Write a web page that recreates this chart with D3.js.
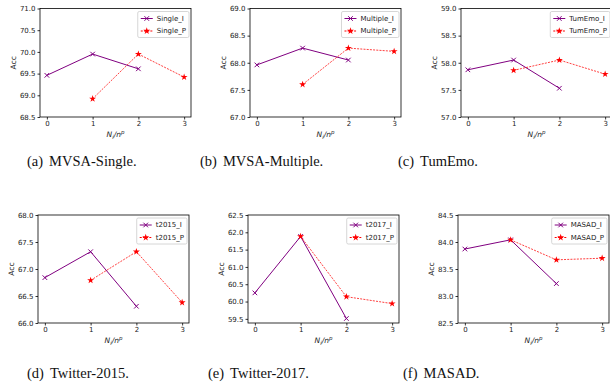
<!DOCTYPE html>
<html>
<head>
<meta charset="utf-8">
<script src="https://cdn.jsdelivr.net/npm/d3@7"></script>
<style>
  body { margin: 0; background: #fff; }
  svg { display: block; }
  .tick text { font-family: "DejaVu Sans", sans-serif; font-size: 7px; fill: #222; }
</style>
</head>
<body>
<svg id="chart" width="610" height="390"></svg>
<script>
// x positions of the two series
const stepsI = [0, 1, 2];
const stepsP = [1, 2, 3];
const xTicks = [0, 1, 2, 3];

// values
const singleI = [69.46, 69.95, 69.61];
const singleP = [68.92, 69.95, 69.42];
const multipleI = [67.96, 68.27, 68.05];
const multipleP = [67.60, 68.27, 68.21];
const tumemoI = [57.87, 58.05, 57.53];
const tumemoP = [57.86, 58.05, 57.79];
const t2015I = [66.84, 67.32, 66.31];
const t2015P = [66.79, 67.32, 66.38];
const t2017I = [60.25, 61.88, 59.51];
const t2017P = [61.88, 60.14, 59.94];
const masadI = [83.87, 84.04, 83.23];
const masadP = [84.04, 83.67, 83.70];

const ticksSingle = [68.5, 69.0, 69.5, 70.0, 70.5, 71.0];
const ticksMultiple = [67.0, 67.5, 68.0, 68.5, 69.0];
const ticksTumemo = [57.0, 57.5, 58.0, 58.5, 59.0];
const ticks2015 = [66.0, 66.5, 67.0, 67.5, 68.0];
const ticks2017 = [59.5, 60.0, 60.5, 61.0, 61.5, 62.0, 62.5];
const ticksMasad = [82.5, 83.0, 83.5, 84.0, 84.5];

const legendNames = [["Single_I", "Single_P"], ["Multiple_I", "Multiple_P"], ["TumEmo_I", "TumEmo_P"],
                     ["t2015_I", "t2015_P"], ["t2017_I", "t2017_P"], ["MASAD_I", "MASAD_P"]];
const captions = [["(a)", "MVSA-Single."], ["(b)", "MVSA-Multiple."], ["(c)", "TumEmo."],
                  ["(d)", "Twitter-2015."], ["(e)", "Twitter-2017."], ["(f)", "MASAD."]];

const panels = [
  {left: 40, top: 8.5, bottom: 117, yDom: [68.5, 71.0], ticks: ticksSingle, I: singleI, P: singleP, cx: 27, cy: 166},
  {left: 250, top: 8.5, bottom: 117, yDom: [67.0, 69.0], ticks: ticksMultiple, I: multipleI, P: multipleP, cx: 200, cy: 166},
  {left: 461, top: 8.5, bottom: 117, yDom: [57.0, 59.0], ticks: ticksTumemo, I: tumemoI, P: tumemoP, cx: 398, cy: 166},
  {left: 38, top: 215, bottom: 323, yDom: [66.0, 68.0], ticks: ticks2015, I: t2015I, P: t2015P, cx: 27, cy: 378},
  {left: 248, top: 215, bottom: 323, yDom: [59.38, 62.5], ticks: ticks2017, I: t2017I, P: t2017P, cx: 208, cy: 378},
  {left: 458, top: 215, bottom: 323, yDom: [82.5, 84.5], ticks: ticksMasad, I: masadI, P: masadP, cx: 403, cy: 378}
];

const purple = "#800080", red = "#ff0000";
const svg = d3.select("#chart");
const plotW = 151;

function drawX(g, x, y, s, color) {
  g.append("path")
    .attr("d", `M${x - s},${y - s}L${x + s},${y + s}M${x - s},${y + s}L${x + s},${y - s}`)
    .attr("stroke", color).attr("stroke-width", 1).attr("fill", "none");
}
function drawStar(g, x, y, color) {
  g.append("path")
    .attr("d", d3.symbol(d3.symbolStar, 15)())
    .attr("transform", `translate(${x},${y})`)
    .attr("fill", color);
}

panels.forEach(function (p, k) {
  const x = d3.scaleLinear().domain([-0.15, 3.15]).range([p.left, p.left + plotW]);
  const y = d3.scaleLinear().domain(p.yDom).range([p.bottom, p.top]);
  const g = svg.append("g");

  const line = d3.line().x(d => x(d[0])).y(d => y(d[1]));
  const ptsI = stepsI.map((s, i) => [s, p.I[i]]);
  const ptsP = stepsP.map((s, i) => [s, p.P[i]]);

  g.append("path").datum(ptsI).attr("d", line)
    .attr("fill", "none").attr("stroke", purple).attr("stroke-width", 1);
  ptsI.forEach(d => drawX(g, x(d[0]), y(d[1]), 2.3, purple));

  g.append("path").datum(ptsP).attr("d", line)
    .attr("fill", "none").attr("stroke", red).attr("stroke-width", 1)
    .attr("stroke-dasharray", "2,1.2").attr("opacity", 0.75);
  ptsP.forEach(d => drawStar(g, x(d[0]), y(d[1]), red));

  // frame
  g.append("rect").attr("x", p.left).attr("y", p.top)
    .attr("width", plotW).attr("height", p.bottom - p.top)
    .attr("fill", "none").attr("stroke", "#000").attr("stroke-width", 0.8);

  g.append("g").attr("transform", `translate(0,${p.bottom})`)
    .call(d3.axisBottom(x).tickValues(xTicks).tickFormat(d3.format("d")).tickSize(2.5).tickPadding(2))
    .call(a => a.select(".domain").remove());
  g.append("g").attr("transform", `translate(${p.left},0)`)
    .call(d3.axisLeft(y).tickValues(p.ticks).tickFormat(d3.format(".1f")).tickSize(2.5).tickPadding(2))
    .call(a => a.select(".domain").remove());

  g.selectAll(".tick line").attr("stroke", "#000").attr("stroke-width", 0.8);

  // axis labels
  g.append("text")
    .attr("transform", `translate(${p.left - 27},${(p.top + p.bottom) / 2}) rotate(-90)`)
    .attr("text-anchor", "middle").attr("dy", "0.35em")
    .style("font-family", "DejaVu Sans, sans-serif").style("font-size", "7.5px").attr("fill", "#222")
    .text("Acc");
  const xl = g.append("text")
    .attr("x", p.left + plotW / 2).attr("y", p.bottom + 20)
    .attr("text-anchor", "middle")
    .style("font-family", "DejaVu Sans, sans-serif").style("font-size", "7.5px")
    .style("font-style", "italic").attr("fill", "#222");
  xl.append("tspan").text("N");
  xl.append("tspan").attr("dy", 1.5).style("font-size", "5.5px").text("i");
  xl.append("tspan").attr("dy", -1.5).text("/n");
  xl.append("tspan").attr("dy", -3).style("font-size", "5.5px").text("p");

  // legend
  const names = legendNames[k];
  const lg = g.append("g");
  const box = lg.append("rect").attr("rx", 1.5).attr("fill", "#fff").attr("fill-opacity", 0.85)
    .attr("stroke", "#ccc").attr("stroke-width", 0.8);
  const texts = names.map((n, i) => lg.append("text")
    .attr("x", 0).attr("y", i * 12.5)
    .attr("dy", "0.35em")
    .style("font-family", "DejaVu Sans, sans-serif").style("font-size", "7px").attr("fill", "#222")
    .text(n));
  const tw = d3.max(texts, t => t.node().getComputedTextLength());
  const bw = 3 + 12 + 4 + tw + 3;
  const right = p.left + plotW - 2;
  const bx = right - bw, by = p.top + 3;
  box.attr("x", bx).attr("y", by).attr("width", bw).attr("height", 26);
  texts.forEach((t, i) => t.attr("x", bx + 19).attr("y", by + 7 + i * 12.5));
  [0, 1].forEach(function (i) {
    const ly = by + 7 + i * 12.5, lx0 = bx + 3, lx1 = bx + 15;
    lg.append("line").attr("x1", lx0).attr("x2", lx1).attr("y1", ly).attr("y2", ly)
      .attr("stroke", i === 0 ? purple : red).attr("stroke-width", 1)
      .attr("stroke-dasharray", i === 0 ? null : "2,1.2");
    if (i === 0) drawX(lg, (lx0 + lx1) / 2, ly, 2.3, purple);
    else drawStar(lg, (lx0 + lx1) / 2, ly, red);
  });

  // caption
  const cap = svg.append("text").attr("x", p.cx).attr("y", p.cy)
    .style("font-family", "Liberation Serif, serif").style("font-size", "14.5px").attr("fill", "#111");
  cap.append("tspan").text(captions[k][0]);
  cap.append("tspan").attr("dx", 6).text(captions[k][1]);
});
</script>
</body>
</html>
